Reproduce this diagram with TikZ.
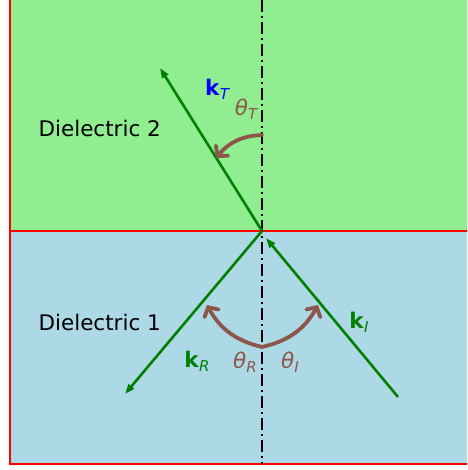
\documentclass[tikz,border=0pt]{standalone}
\usepackage{fontspec}
\setmainfont{DejaVu Sans}
\usetikzlibrary{arrows.meta}
\definecolor{raygreen}{RGB}{0,128,0}
\definecolor{topfill}{RGB}{144,238,144}
\definecolor{botfill}{RGB}{173,216,230}
\definecolor{arcbrown}{RGB}{140,86,75}
\newcommand{\wavevec}[1]{\textbf{k}\raisebox{-0.35ex}{\fontsize{15}{15}\selectfont\itshape #1}}
\newcommand{\angsym}[1]{\textit{θ}\raisebox{-0.35ex}{\fontsize{15}{15}\selectfont\itshape #1}}

\begin{document}
\begin{tikzpicture}[x=1pt,y=-1pt,font=\fontsize{21.5}{25}\selectfont,
    ray/.style={raygreen,line width=2.6pt,-{Triangle[length=10pt,width=7pt]}},
    anglearc/.style={arcbrown,line width=3.8pt,line cap=round,-{Straight Barb[length=7pt,width=16pt,line cap=round]}}]
      \useasboundingbox (0,0) rectangle (467,470);
      \clip (0,0) rectangle (467,470);

      % Two media
      \fill[topfill] (10,-10) rectangle (480,231);
      \fill[botfill] (10,231) rectangle (480,464);
      \draw[red,line width=1.4pt] (10,-10) -- (10,464) -- (480,464);
      \draw[red,line width=1.4pt] (10,231) -- (480,231);
      \node[anchor=west] (d2) at (35,128) {Dielectric 2};
      \node[anchor=west] (d1) at (35,322) {Dielectric 1};

      % Normal
      \coordinate (ntop) at (262,0);
      \coordinate (nbot) at (262,464);
      \draw[line width=1.8pt,dash pattern=on 12pt off 4pt on 2pt off 4pt] (ntop) -- (nbot);

      % Rays
      \coordinate (O) at (262,231);
      \coordinate (T) at (160,68);
      \coordinate (I) at (398,397);
      \coordinate (R) at (125,394);
      \draw[ray] (I) -- ([shift={(4,7)}]O);
      \draw[ray] (O) -- (R);
      \draw[ray] (O) -- (T);

      % Angles
      \coordinate (aT) at (262,135);
      \coordinate (eT) at (216,158);
      \coordinate (aB) at (262,347);
      \coordinate (eI) at (318,305);
      \coordinate (eR) at (207,305);
      \draw[anglearc] (aT) to[bend right=24] (eT);
      \draw[anglearc] (aB) to[bend right=24] (eI);
      \draw[anglearc] (aB) to[bend left=24] (eR);

      % Labels
      \node[blue] (kT) at (217,89) {\wavevec{T}};
      \node[arcbrown] (thT) at (246,109) {\angsym{T}};
      \node[raygreen] (kR) at (197,361) {\wavevec{R}};
      \node[arcbrown] (thR) at (245,362) {\angsym{R}};
      \node[arcbrown] (thI) at (290,362) {\angsym{I}};
      \node[raygreen] (kI) at (359,322) {\wavevec{I}};
\end{tikzpicture}
\end{document}
